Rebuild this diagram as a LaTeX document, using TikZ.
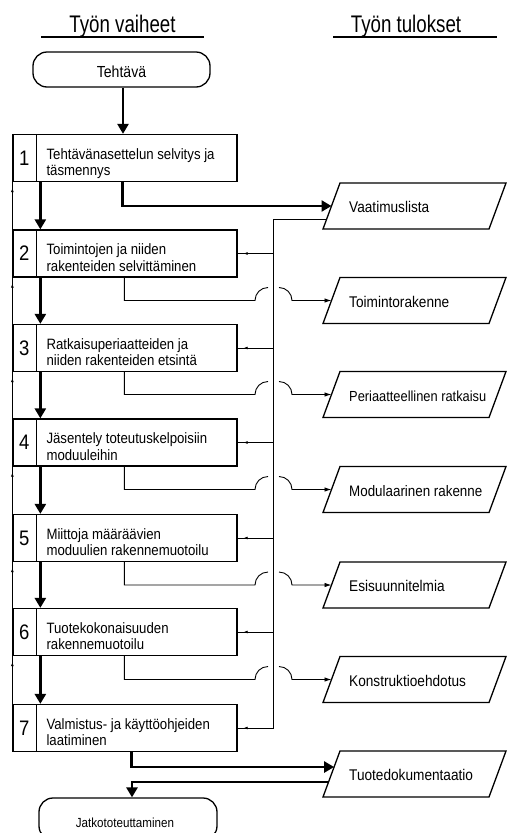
\documentclass[tikz,border=0pt]{standalone}
\usepackage{fontspec}
\setmainfont{Liberation Sans}[FakeStretch=0.88]
\newfontfamily\titlefont{Liberation Sans}[FakeStretch=0.78]
\usetikzlibrary{arrows.meta,calc}
\tikzset{
  stepbox/.style={draw, line width=1.3pt, minimum width=224pt, minimum height=47pt, inner sep=0pt},
  termbox/.style={draw, line width=1.3pt, rounded corners=14pt, inner sep=0pt},
  outbox/.style={draw, line width=1.3pt, line join=miter},
  bigarrow/.style={line width=2.6pt, -{Triangle[length=10pt,width=11pt]}},
  thinline/.style={line width=0.9pt},
  thinarrow/.style={line width=0.9pt, -{Latex[length=7pt,width=4.5pt]}},
  tinyarrow/.style={line width=0.9pt, -{Latex[length=4pt,width=3pt]}},
  steptext/.style={anchor=base west, align=left, inner sep=0pt, font=\fontsize{15}{16.5}\selectfont},
  numtext/.style={inner sep=0pt, font=\fontsize{21}{23}\selectfont},
  outtext/.style={anchor=base west, inner sep=0pt, font=\fontsize{15.5}{17}\selectfont},
  termtext/.style={anchor=base, inner sep=0pt},
  titletext/.style={anchor=base, inner sep=0pt, font=\titlefont\fontsize{24}{26}\selectfont},
  divline/.style={line width=1.3pt},
  rule/.style={line width=1.2pt},
}
\newcommand{\mystep}[4]{%
  \node[stepbox] (#1) at (125,#2) {};
  \draw[divline] ([xshift=24pt]#1.north west) -- ([xshift=24pt]#1.south west);
  \node[numtext] (#1n) at ([xshift=12pt]#1.west) {#3};
  \node[steptext] (#1t) at ([xshift=34pt,yshift=-17.5pt]#1.west) {#4};
}
\newcommand{\myout}[3]{%
  \draw[outbox] (323,#2+23) -- (340,#2-23) -- (506,#2-23) -- (489,#2+23) -- cycle;
  \coordinate (#1) at (331.5,#2);
  \node[outtext] (#1t) at (349,#2+6.5) {#3};
}
\begin{document}
\begin{tikzpicture}[x=1pt,y=-1pt]
\clip (0,0) rectangle (507,833);
% titles
\node[titletext] (tl) at (122.5,32) {Työn vaiheet};
\node[titletext] (tr) at (406,32) {Työn tulokset};
\draw[rule] (41,37) -- (204,37);
\draw[rule] (333,37) -- (497,37);
% terminals
\node[termbox, minimum width=177pt, minimum height=35pt] (start) at (121.5,69.5) {};
\node[termtext, font=\fontsize{16}{18}\selectfont] (startt) at (121.5,77) {Tehtävä};
\node[termbox, minimum width=178pt, minimum height=42pt] (end) at (128,819) {};
\node[termtext, font=\fontsize{13.2}{15}\selectfont] (endt) at (125,827.5) {Jatkototeuttaminen};
% steps
\mystep{b1}{158}{1}{Tehtävänasettelun selvitys ja\\täsmennys}
\mystep{b2}{253.5}{2}{Toimintojen ja niiden\\rakenteiden selvittäminen}
\mystep{b3}{348}{3}{Ratkaisuperiaatteiden ja\\niiden rakenteiden etsintä}
\mystep{b4}{442.5}{4}{Jäsentely toteutuskelpoisiin\\moduuleihin}
\mystep{b5}{538}{5}{Miittoja määräävien\\moduulien rakennemuotoilu}
\mystep{b6}{632}{6}{Tuotekokonaisuuden\\rakennemuotoilu}
\mystep{b7}{728}{7}{Valmistus- ja käyttöohjeiden\\laatiminen}
% outputs
\myout{o1}{206}{Vaatimuslista}
\myout{o2}{300.5}{Toimintorakenne}
\myout{o3}{394.5}{\fontsize{14.6}{16}\selectfont Periaatteellinen ratkaisu}
\myout{o4}{489.5}{\fontsize{15.2}{16}\selectfont Modulaarinen rakenne}
\myout{o5}{585}{Esisuunnitelmia}
\myout{o6}{679.5}{Konstruktioehdotus}
\myout{o7}{774}{Tuotedokumentaatio}
\coordinate (o7in) at (334.1,767);
\coordinate (o7out) at (328.5,782);
% main flow
\draw[bigarrow] ([xshift=1.5pt]start.south) -- ([xshift=1.5pt]start.south |- b1.north);
\foreach \a/\b in {b1/b2,b2/b3,b3/b4,b4/b5,b5/b6,b6/b7}
  \draw[bigarrow] ([xshift=28pt]\a.south west) -- ([xshift=28pt]\b.north west);
\draw[bigarrow] ([xshift=110pt]b1.south west) |- (o1);
\draw[bigarrow] ([xshift=119pt]b7.south west) |- (o7in);
\draw[bigarrow] (o7out) -| ([xshift=4pt]end.north);
% feedback from outputs
\coordinate (fbs) at (326.7,219);
\coordinate (fb) at (273,219);
\draw[thinline] (fbs) -- (fb) -- (fb |- b7.east) -- (b7.east);
\foreach \b in {b2,b3,b4,b5,b6}
  \draw[thinline] (fb |- \b.east) -- (\b.east);
\foreach \b in {b2,b3,b4,b5,b6,b7}
  \draw[tinyarrow] ([xshift=14pt]\b.east) -- ([xshift=6pt]\b.east);
% outputs with line hops
\foreach \b/\o in {b2/o2,b3/o3,b4/o4,b5/o5,b6/o6}{
  \draw[thinline] ([xshift=112pt]\b.south west) |- ($(fb |- \o)+(-18pt,0pt)$)
     arc[start angle=180,end angle=90,radius=13pt];
  \draw[thinarrow] ($(fb |- \o)+(6pt,13pt)$)
     arc[start angle=90,end angle=0,radius=13pt] -- (\o);
}
% left return line
\draw[thinline] (b1.south west) -- (b7.north west);
\foreach \b in {b1,b2,b3,b4,b5,b6}
  \draw[tinyarrow] ([yshift=-14pt]\b.south west) -- ([yshift=-6pt]\b.south west);
\end{tikzpicture}
\end{document}
